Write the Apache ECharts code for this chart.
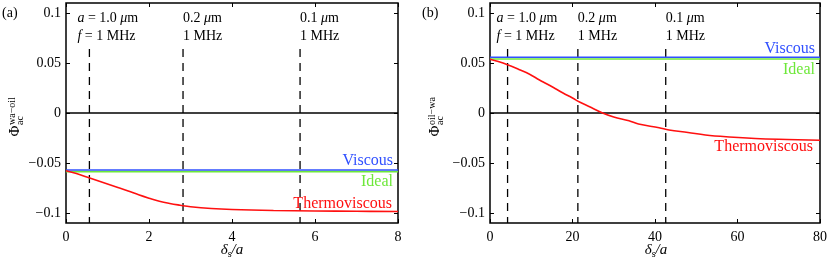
<!DOCTYPE html>
<html>
<head>
<meta charset="utf-8">
<script src="https://cdn.jsdelivr.net/npm/echarts@6/dist/echarts.min.js"></script>
<style>
html,body{margin:0;padding:0;background:#fff;}
#chart{width:830px;height:266px;}
</style>
</head>
<body>
<div id="chart"></div>
<script>
// ---------- data ----------
const xA = [0, 0.25, 0.5, 0.75, 1.0, 1.25, 1.5, 1.75, 2.0, 2.25, 2.5, 2.75, 3.0, 3.5, 4.0, 5.0, 6.0, 7.0, 8.0];
const thermoA = [-0.0578, -0.0605, -0.0640, -0.0675, -0.0710, -0.0745, -0.0780, -0.0818, -0.0852, -0.0883, -0.0905, -0.0922, -0.0937, -0.0955, -0.0965, -0.0975, -0.0980, -0.0983, -0.0985];
const viscousA = [-0.0570, -0.0570];
const idealA = [-0.0586, -0.0586];
const xAEnds = [0, 8];

const xB = [0, 2, 4.4, 7, 9.6, 12, 13.7, 16, 17.7, 20, 21.7, 24, 27.3, 30, 33.7, 36, 41, 43.4, 48, 52.2, 58, 64.3, 72, 80];
const thermoB = [0.0537, 0.0515, 0.0480, 0.0435, 0.0387, 0.0330, 0.0293, 0.0240, 0.0200, 0.0150, 0.0110, 0.0065, 0.0000, -0.0040, -0.0077, -0.0110, -0.0147, -0.0170, -0.0195, -0.0220, -0.0240, -0.0255, -0.0265, -0.0273];
const viscousB = [0.0557, 0.0557];
const idealB = [0.0540, 0.0540];
const xBEnds = [0, 80];

const dashA = [0.564, 2.82, 5.64];
const dashB = [4.26, 21.3, 42.6];
const dashRange = [0.064, -0.11];

const annoSize = ['a = 1.0 μm', '0.2 μm', '0.1 μm'];
const annoFreq = ['f = 1 MHz', '1 MHz', '1 MHz'];

const yTickVals = [-0.1, -0.05, 0, 0.05, 0.1];
const yTickLabels = ['−0.1', '−0.05', '0', '0.05', '0.1'];
const xTicksA = [0, 2, 4, 6, 8];
const xTicksB = [0, 20, 40, 60, 80];
const seriesNames = ['Viscous', 'Ideal', 'Thermoviscous'];

// ---------- style ----------
const FONT = '"Liberation Serif", "DejaVu Serif", serif';
const BLUE = '#3050ff', GREEN = '#6ee83a', RED = '#ff1010';

function zip(xs, ys) { return xs.map((x, i) => [x, ys[i]]); }

function richMath(s) {
  // italic for math symbols a, f, μ ; the rest upright
  const ital = new Set(['a', 'f', 'μ']);
  let out = '', buf = '';
  for (const ch of s) {
    if (ital.has(ch)) {
      if (buf) { out += '{t|' + buf + '}'; buf = ''; }
      out += '{i|' + ch + '}';
    } else buf += ch;
  }
  if (buf) out += '{t|' + buf + '}';
  return out;
}

function axesFor(gi, xmax, xint, xticks) {
  const tick = { show: true, inside: true, length: 4, lineStyle: { color: '#000', width: 1 } };
  const xs = [
    { gridIndex: gi, type: 'value', min: 0, max: xmax, interval: xint, position: 'bottom',
      axisLine: { show: false, onZero: false }, splitLine: { show: false }, axisTick: tick,
      axisLabel: { show: true, margin: 7, fontFamily: FONT, fontSize: 14, color: '#000',
        formatter: v => { const i = xticks.indexOf(v); return i >= 0 ? String(xticks[i]) : ''; } } },
    { gridIndex: gi, type: 'value', min: 0, max: xmax, interval: xint, position: 'top',
      axisLine: { show: false, onZero: false }, splitLine: { show: false }, axisTick: tick,
      axisLabel: { show: false } }
  ];
  const ytick = Object.assign({}, tick, { customValues: yTickVals });
  const ys = [
    { gridIndex: gi, type: 'value', min: -0.11, max: 0.11, position: 'left',
      axisLine: { show: false, onZero: false }, splitLine: { show: false }, axisTick: ytick,
      axisLabel: { show: true, margin: 5, customValues: yTickVals, fontFamily: FONT, fontSize: 14, color: '#000',
        formatter: v => { const i = yTickVals.findIndex(t => Math.abs(t - v) < 1e-9); return i >= 0 ? yTickLabels[i] : ''; } } },
    { gridIndex: gi, type: 'value', min: -0.11, max: 0.11, position: 'right',
      axisLine: { show: false, onZero: false }, splitLine: { show: false }, axisTick: ytick,
      axisLabel: { show: false } }
  ];
  return { xs, ys };
}

const axA = axesFor(0, 8, 2, xTicksA);
const axB = axesFor(1, 80, 20, xTicksB);

function panelSeries(xi, yi, xs, thermo, visc, ideal, ends, dashes, xmax, labelOffsets, firstOffset) {
  const out = [];
  out.push({ type: 'line', xAxisIndex: xi, yAxisIndex: yi, data: zip(ends, [0, 0]), symbol: 'none',
    lineStyle: { color: '#000', width: 1.3 }, silent: true, z: 2 });
  dashes.forEach(d => {
    out.push({ type: 'line', xAxisIndex: xi, yAxisIndex: yi, data: zip([d, d], dashRange), symbol: 'none',
      lineStyle: { color: '#000', width: 1.3, type: [8, 6] }, silent: true, z: 2 });
  });
  out.push({ type: 'line', name: seriesNames[1], xAxisIndex: xi, yAxisIndex: yi, data: zip(ends, ideal), symbol: 'none',
    lineStyle: { color: GREEN, width: 1.6 }, z: 3 });
  out.push({ type: 'line', name: seriesNames[0], xAxisIndex: xi, yAxisIndex: yi, data: zip(ends, visc), symbol: 'none',
    lineStyle: { color: BLUE, width: 1.6 }, z: 4 });
  out.push({ type: 'line', name: seriesNames[2], xAxisIndex: xi, yAxisIndex: yi, data: zip(xs, thermo), symbol: 'none',
    smooth: 0.4, lineStyle: { color: RED, width: 1.6 }, z: 5 });
  const lastT = thermo[thermo.length - 1];
  const labelVals = [visc[1], ideal[1], lastT];
  const colors = [BLUE, GREEN, RED];
  seriesNames.forEach((nm, i) => {
    out.push({ type: 'scatter', xAxisIndex: xi, yAxisIndex: yi, symbolSize: 0, silent: true, z: 6,
      itemStyle: { opacity: 1 },
      data: [[xmax, labelVals[i]]],
      label: { show: true, position: 'inside', align: 'right', verticalAlign: 'middle',
        offset: labelOffsets[i], formatter: nm, fontFamily: FONT, fontSize: 16, color: colors[i] } });
  });
  dashes.forEach((d, i) => {
    out.push({ type: 'scatter', xAxisIndex: xi, yAxisIndex: yi, symbolSize: 0, silent: true, z: 6,
      itemStyle: { opacity: 1 },
      data: [[d, 0.1]],
      label: { show: true, position: 'inside', align: 'left', verticalAlign: 'top',
        offset: [i === 0 ? firstOffset : 0, -4],
        formatter: richMath(annoSize[i]) + '\n' + richMath(annoFreq[i]),
        rich: { t: { fontFamily: FONT, fontSize: 14, color: '#000', lineHeight: 18 },
                i: { fontFamily: FONT, fontSize: 14, fontStyle: 'italic', color: '#000', lineHeight: 18 } } } });
  });
  return out;
}

const series = [].concat(
  panelSeries(0, 0, xA, thermoA, viscousA, idealA, xAEnds, dashA, 8, [[-5, -9], [-5, 10], [-6, -8]], -12),
  panelSeries(2, 2, xB, thermoB, viscousB, idealB, xBEnds, dashB, 80, [[-5, -9], [-5, 11], [-7, 6]], -11)
);

function yTitle(x, y, sup) {
  return { type: 'group', x: x, y: y, rotation: Math.PI / 2, children: [
    { type: 'text', x: 0, y: 0, style: { text: 'Φ', fontFamily: FONT, fontSize: 15, fill: '#000', align: 'center', verticalAlign: 'middle' } },
    { type: 'text', x: 6, y: -3, style: { text: sup, fontFamily: FONT, fontSize: 10, fill: '#000', align: 'left', verticalAlign: 'middle' } },
    { type: 'text', x: 6, y: 5, style: { text: 'ac', fontFamily: FONT, fontSize: 10, fill: '#000', align: 'left', verticalAlign: 'middle' } }
  ] };
}
function xTitle(cx, y) {
  return { type: 'text', x: cx, y: y, style: {
    text: '{d|δ}{s|s}{n|/a}', align: 'center', verticalAlign: 'middle',
    rich: { d: { fontFamily: FONT, fontSize: 15, fontStyle: 'italic', fill: '#000', lineHeight: 18, verticalAlign: 'middle' },
            s: { fontFamily: FONT, fontSize: 10, fill: '#000', lineHeight: 18, verticalAlign: 'bottom' },
            n: { fontFamily: FONT, fontSize: 15, fontStyle: 'italic', fill: '#000', lineHeight: 18, verticalAlign: 'middle' } } } };
}

const option = {
  animation: false,
  backgroundColor: '#fff',
  grid: [
    { left: 66, top: 3, width: 332, height: 220, show: true, borderColor: '#000', borderWidth: 1.5, backgroundColor: 'transparent' },
    { left: 490, top: 3, width: 332, height: 220, show: true, borderColor: '#000', borderWidth: 1.5, backgroundColor: 'transparent' }
  ],
  xAxis: [].concat(axA.xs, axB.xs),
  yAxis: [].concat(axA.ys, axB.ys),
  series: series,
  graphic: [
    { type: 'text', x: 2, y: 13, style: { text: '(a)', fontFamily: FONT, fontSize: 14, fill: '#000', verticalAlign: 'middle' } },
    { type: 'text', x: 422, y: 13, style: { text: '(b)', fontFamily: FONT, fontSize: 14, fill: '#000', verticalAlign: 'middle' } },
    yTitle(15, 131, 'wa−oil'),
    yTitle(435, 131, 'oil−wa'),
    xTitle(232, 250),
    xTitle(656, 250)
  ]
};

const chart = echarts.init(document.getElementById('chart'), null, { renderer: 'canvas' });
chart.setOption(option);
</script>
</body>
</html>
